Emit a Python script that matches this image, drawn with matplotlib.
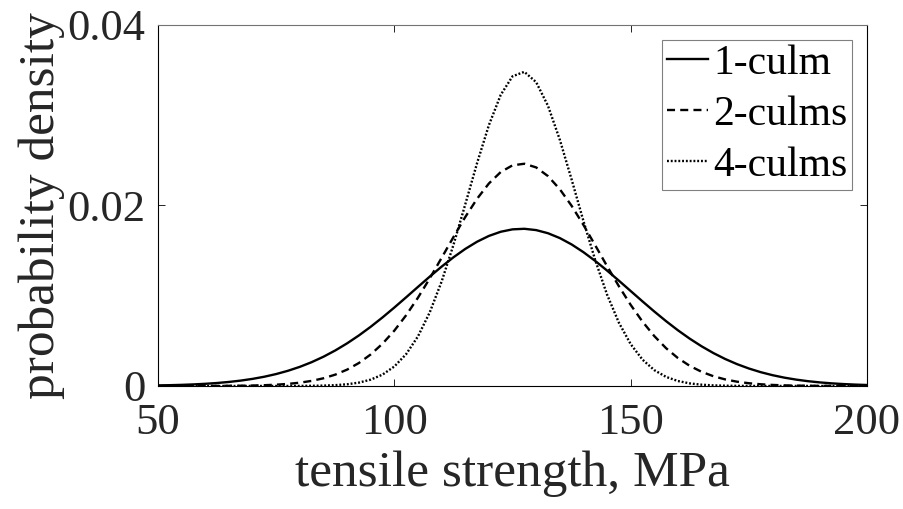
import matplotlib
matplotlib.use("Agg")
import matplotlib.pyplot as plt

# tensile strength grid, MPa
strength = [50, 52.5, 55, 57.5, 60, 62.5, 65, 67.5, 70, 72.5,
            75, 77.5, 80, 82.5, 85, 87.5, 90, 92.5, 95, 97.5,
            100, 102.5, 105, 107.5, 110, 112.5, 115, 117.5, 120, 122.5,
            125, 127.5, 130, 132.5, 135, 137.5, 140, 142.5, 145, 147.5,
            150, 152.5, 155, 157.5, 160, 162.5, 165, 167.5, 170, 172.5,
            175, 177.5, 180, 182.5, 185, 187.5, 190, 192.5, 195, 197.5, 200]

# probability density
culm1 = [0.000061, 0.000088, 0.000124, 0.000174, 0.000241, 0.000330, 0.000446, 0.000596, 0.000787, 0.001026,
         0.001323, 0.001685, 0.002120, 0.002637, 0.003241, 0.003936, 0.004723, 0.005600, 0.006562, 0.007598,
         0.008694, 0.009829, 0.010982, 0.012123, 0.013225, 0.014257, 0.015186, 0.015985, 0.016626, 0.017088,
         0.017355, 0.017417, 0.017272, 0.016926, 0.016390, 0.015683, 0.014828, 0.013854, 0.012791, 0.011670,
         0.010520, 0.009372, 0.008250, 0.007176, 0.006168, 0.005239, 0.004397, 0.003647, 0.002988, 0.002420,
         0.001937, 0.001531, 0.001197, 0.000924, 0.000705, 0.000531, 0.000396, 0.000292, 0.000212, 0.000152, 0.000108]

culm2 = [0.0000003, 0.0000006, 0.0000013, 0.0000025, 0.0000047, 0.0000088, 0.0000162, 0.0000288, 0.0000502, 0.0000855,
         0.000142, 0.000230, 0.000365, 0.000564, 0.000853, 0.001257, 0.001811, 0.002546, 0.003496, 0.004687,
         0.006136, 0.007843, 0.009789, 0.011931, 0.014199, 0.016499, 0.018721, 0.020742, 0.022439, 0.023704,
         0.024450, 0.024625, 0.024218, 0.023256, 0.021807, 0.019966, 0.017850, 0.015582, 0.013282, 0.011055,
         0.008985, 0.007130, 0.005525, 0.004180, 0.003088, 0.002228, 0.001569, 0.001080, 0.000725, 0.000475,
         0.000304, 0.000190, 0.000116, 0.000069, 0.000040, 0.000023, 0.000013, 0.000007, 0.000004, 0.000002, 0.000001]

culm4 = [0, 0, 0, 0, 0, 0, 0, 0, 0.0000001, 0.0000004,
         0.0000012, 0.0000030, 0.0000076, 0.0000183, 0.0000417, 0.0000908, 0.000188, 0.000372, 0.000702, 0.001261,
         0.002161, 0.003531, 0.005501, 0.008171, 0.011572, 0.015627, 0.020118, 0.024696, 0.028903, 0.032253,
         0.034315, 0.034809, 0.033666, 0.031046, 0.027296, 0.022882, 0.018289, 0.013937, 0.010126, 0.007015,
         0.004634, 0.002918, 0.001752, 0.001003, 0.000548, 0.000285, 0.000141, 0.0000669, 0.0000302, 0.0000130,
         0.0000053, 0.0000021, 0.0000008, 0.0000003, 0, 0, 0, 0, 0, 0, 0]

labels = ["1-culm", "2-culms", "4-culms"]
xticks = [50, 100, 150, 200]
yticks = [0, 0.02, 0.04]
ytick_labels = ["0", "0.02", "0.04"]

plt.rcParams['font.family'] = ['Liberation Serif', 'DejaVu Serif']
txt = '#262626'

fig = plt.figure(figsize=(9.04, 5.09), dpi=100)
ax = fig.add_axes([0.1748, 0.2417, 0.7843, 0.7092])

lw = 1.7
ax.plot(strength, culm1, color='black', lw=lw, linestyle='-', label=labels[0])
ax.plot(strength, culm2, color='black', lw=lw, linestyle=(0, (3.4, 2.2)), label=labels[1])
ax.plot(strength, culm4, color='black', lw=lw, linestyle=(0, (0.8, 0.8)), label=labels[2])

ax.set_xlim(50, 200)
ax.set_ylim(0, 0.04)
ax.set_xticks(xticks)
ax.set_yticks(yticks)
ax.set_yticklabels(ytick_labels)
ax.tick_params(direction='in', length=5, width=0.6, top=True, right=True,
               labelsize=32, colors='black', labelcolor=txt)
ax.tick_params(axis='x', pad=12)
ax.tick_params(axis='y', pad=9)
for side in ['left', 'bottom', 'right']:
    ax.spines[side].set_linewidth(0.8)
ax.spines['top'].set_color('0.45')
ax.spines['top'].set_linewidth(0.8)

ax.set_xlabel("tensile strength, MPa", fontsize=37, color=txt, labelpad=6)
ax.set_ylabel("probability density", fontsize=37, color=txt, labelpad=2)

leg = ax.legend(loc='upper right', fontsize=30, handlelength=1.0, handletextpad=0.12,
                labelspacing=0.3, borderpad=0.12, borderaxespad=0.35,
                fancybox=False, edgecolor='0.5', framealpha=1)
leg.get_frame().set_linewidth(0.8)

fig.savefig("out.png", dpi=100)
